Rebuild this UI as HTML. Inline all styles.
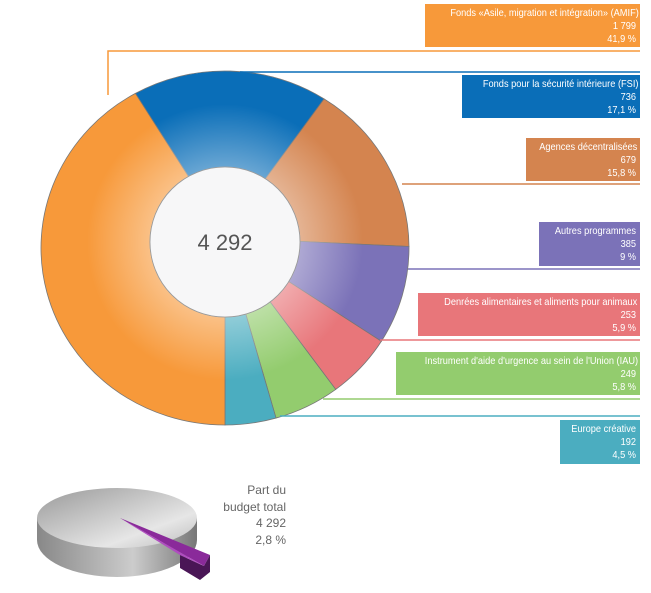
<!DOCTYPE html>
<html><head><meta charset="utf-8"><style>
body{margin:0;width:651px;height:593px;background:#fff;overflow:hidden;font-family:"Liberation Sans",sans-serif}
.box{position:absolute;color:#fff;font-size:10.5px;line-height:13px;text-align:right;padding:3px 4px 2px 0;box-sizing:border-box;right:11px;white-space:nowrap;overflow:hidden}
.box span{display:block;transform:scaleX(0.88);transform-origin:right center}
</style></head><body>
<svg id="chart" width="651" height="593" style="position:absolute;left:0;top:0">
<defs>
<radialGradient id="shade" cx="225" cy="242" r="184" gradientUnits="userSpaceOnUse">
<stop offset="0.35" stop-color="#fff" stop-opacity="0.45"/><stop offset="0.75" stop-color="#fff" stop-opacity="0"/></radialGradient>
<linearGradient id="grey" x1="0" x2="1"><stop offset="0" stop-color="#888"/><stop offset="0.6" stop-color="#ccc"/><stop offset="1" stop-color="#777"/></linearGradient>
<linearGradient id="greytop" x1="0" y1="0" x2="1" y2="1"><stop offset="0" stop-color="#999"/><stop offset="0.7" stop-color="#e6e6e6"/><stop offset="1" stop-color="#bbb"/></linearGradient>
</defs>
<g id="slices"></g>
<ellipse cx="225" cy="242" rx="75" ry="75" fill="#f7f7f8" stroke="#999" stroke-width="0.8"/>
<text x="225" y="250" text-anchor="middle" font-size="22" fill="#555">4 292</text>
<polyline points="108,95 108,51 640,51" fill="none" stroke="#F7993A" stroke-width="1.5"/>
<line x1="240" y1="72" x2="640" y2="72" stroke="#0A6EB8" stroke-width="1.5"/>
<line x1="402" y1="184" x2="640" y2="184" stroke="#D4844F" stroke-width="1.5"/>
<line x1="408" y1="269" x2="640" y2="269" stroke="#7B72B8" stroke-width="1.5"/>
<line x1="380" y1="340" x2="640" y2="340" stroke="#E8767A" stroke-width="1.5"/>
<line x1="323" y1="399" x2="640" y2="399" stroke="#93CC6E" stroke-width="1.5"/>
<line x1="280" y1="416" x2="640" y2="416" stroke="#4BADC0" stroke-width="1.5"/>
<g>
<path d="M37,518 L37,540 A80,37 0 0 0 197,540 L197,518 Z" fill="url(#grey)"/>
<ellipse cx="117" cy="518" rx="80" ry="30" fill="url(#greytop)"/>
<path d="M120,518 L210,555 L204,566 Z" fill="#8a2a9a"/>
<path d="M180,555 L204,566 L210,555 L210,572 L200,580 L180,568 Z" fill="#4a1656"/>
<path d="M120,518 L204,566 L180,555 Z" fill="#b04cc0"/>
</g>
<g font-size="12" fill="#666" text-anchor="end">
<text x="286" y="494">Part du</text><text x="286" y="511">budget total</text><text x="286" y="527">4 292</text><text x="286" y="544">2,8 %</text></g>
</svg>
<div class="box" style="top:4px;width:215px;height:43px;background:#F7993A"><span>Fonds «Asile, migration et intégration» (AMIF)<br>1 799<br>41,9 %</span></div>
<div class="box" style="top:75px;width:178px;height:43px;background:#0A6EB8"><span>Fonds pour la sécurité intérieure (FSI)<br>736<br>17,1 %</span></div>
<div class="box" style="top:138px;width:114px;height:43px;background:#D4844F"><span>Agences décentralisées<br>679<br>15,8 %</span></div>
<div class="box" style="top:222px;width:101px;height:44px;background:#7B72B8"><span>Autres programmes<br>385<br>9 %</span></div>
<div class="box" style="top:293px;width:222px;height:43px;background:#E8767A"><span>Denrées alimentaires et aliments pour animaux<br>253<br>5,9 %</span></div>
<div class="box" style="top:352px;width:244px;height:43px;background:#93CC6E"><span>Instrument d'aide d'urgence au sein de l'Union (IAU)<br>249<br>5,8 %</span></div>
<div class="box" style="top:420px;width:80px;height:44px;background:#4BADC0"><span>Europe créative<br>192<br>4,5 %</span></div>
<script>
const categories=["FSI","Agences décentralisées","Autres programmes","Denrées alimentaires","IAU","Europe créative","AMIF"];
const values=[736,679,385,253,249,192,1799];
const colors=["#0A6EB8","#D4844F","#7B72B8","#E8767A","#93CC6E","#4BADC0","#F7993A"];
const cx=225,cy=248,rx=184,ry=177,hx=225,hy=242,hr=75;
const total=values.reduce((a,b)=>a+b,0);
const g=document.getElementById('slices');
const NS="http://www.w3.org/2000/svg";
let a=(180-(1-values[6]/total)*360)*Math.PI/180;
function pt(t,r1,r2,x0,y0){return [x0+r1*Math.sin(t),y0-r2*Math.cos(t)];}
values.forEach((v,i)=>{
  const s=a,e=a+v/total*2*Math.PI;a=e;
  const large=(e-s)>Math.PI?1:0;
  const p1=pt(s,rx,ry,cx,cy),p2=pt(e,rx,ry,cx,cy),p3=pt(e,hr,hr,hx,hy),p4=pt(s,hr,hr,hx,hy);
  const d=`M${p1} A${rx},${ry} 0 ${large} 1 ${p2} L${p3} A${hr},${hr} 0 ${large} 0 ${p4} Z`;
  const p=document.createElementNS(NS,'path');
  p.setAttribute('d',d);p.setAttribute('fill',colors[i]);p.setAttribute('stroke','#777');p.setAttribute('stroke-width','0.8');
  
  
  g.appendChild(p);
});
const sh=document.createElementNS(NS,'ellipse');
sh.setAttribute('cx',cx);sh.setAttribute('cy',cy);sh.setAttribute('rx',rx);sh.setAttribute('ry',ry);sh.setAttribute('fill','url(#shade)');


g.appendChild(sh);
</script>
</body></html>
